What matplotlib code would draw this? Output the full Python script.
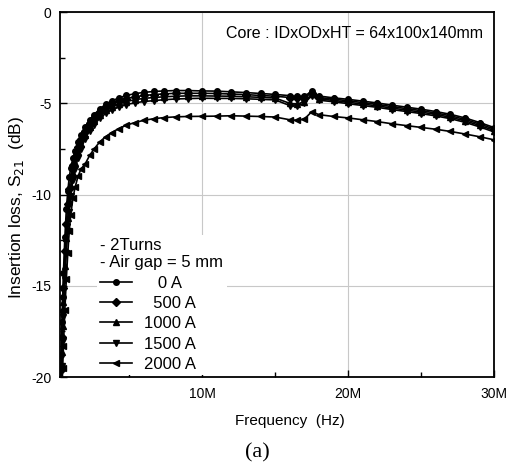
import numpy as np
import matplotlib
matplotlib.use("Agg")
import matplotlib.pyplot as plt
from matplotlib.ticker import MultipleLocator, FuncFormatter

plt.rcParams['font.family'] = ['Liberation Sans', 'DejaVu Sans']

# frequency in MHz
freq = [0.3, 0.35, 0.4, 0.45, 0.5, 0.6, 0.7, 0.8, 0.9, 1.0, 1.15, 1.3, 1.5, 1.7,
        2.0, 2.3, 2.6, 3.0, 3.4, 3.8, 4.3, 4.8, 5.4, 6.0, 6.7, 7.4, 8.2, 9.0,
        10, 11, 12, 13, 14, 15, 16, 16.5, 17, 17.5, 18, 19, 20, 21, 22, 23,
        24, 25, 26, 27, 28, 29, 30]

s21_0A = [-20.8, -18.8, -17.0, -15.6, -14.3, -12.3, -10.8, -9.8, -9.05, -8.55, -8.0,
          -7.6, -7.13, -6.72, -6.27, -5.9, -5.62, -5.29, -5.05, -4.87, -4.7, -4.57,
          -4.47, -4.4, -4.35, -4.32, -4.3, -4.3, -4.32, -4.33, -4.37, -4.41,
          -4.46, -4.51, -4.58, -4.62, -4.6, -4.35, -4.6, -4.7, -4.78, -4.88,
          -4.98, -5.1, -5.21, -5.32, -5.45, -5.6, -5.8, -6.05, -6.33]
s21_500A = [-21.6, -19.6, -17.8, -16.4, -15.1, -13.1, -11.6, -10.53, -9.68, -9.05, -8.4,
            -7.93, -7.41, -6.97, -6.49, -6.1, -5.81, -5.46, -5.22, -5.04, -4.87, -4.74,
            -4.64, -4.57, -4.52, -4.48, -4.45, -4.45, -4.45, -4.46, -4.49, -4.52,
            -4.57, -4.61, -4.68, -4.72, -4.7, -4.42, -4.68, -4.77, -4.86, -4.96,
            -5.06, -5.18, -5.29, -5.4, -5.53, -5.68, -5.88, -6.13, -6.41]
s21_1000A = [-22.4, -20.4, -18.6, -17.2, -15.9, -13.9, -12.4, -11.27, -10.32, -9.55, -8.8,
             -8.27, -7.69, -7.23, -6.71, -6.3, -5.99, -5.64, -5.38, -5.2, -5.03, -4.9,
             -4.8, -4.73, -4.68, -4.64, -4.61, -4.59, -4.59, -4.6, -4.61, -4.64,
             -4.67, -4.71, -5.0, -5.05, -4.9, -4.5, -4.75, -4.84, -4.94, -5.04,
             -5.14, -5.26, -5.37, -5.48, -5.61, -5.76, -5.96, -6.21, -6.49]
s21_1500A = [-23.2, -21.2, -19.4, -18.0, -16.7, -14.7, -13.2, -12.0, -10.95, -10.05, -9.2,
             -8.6, -7.97, -7.48, -6.93, -6.5, -6.18, -5.81, -5.55, -5.37, -5.2, -5.07,
             -4.97, -4.9, -4.85, -4.8, -4.76, -4.74, -4.72, -4.73, -4.73, -4.75,
             -4.78, -4.81, -5.12, -5.15, -5.0, -4.58, -4.83, -4.91, -5.02, -5.12,
             -5.22, -5.34, -5.45, -5.56, -5.69, -5.84, -6.04, -6.29, -6.57]
s21_2000A = [-24.0, -22.3, -20.8, -19.5, -18.3, -16.3, -14.6, -13.2, -12.0, -11.1, -10.2,
             -9.6, -9.0, -8.6, -8.3, -7.85, -7.5, -7.1, -6.82, -6.6, -6.38, -6.2,
             -6.05, -5.93, -5.84, -5.78, -5.74, -5.72, -5.71, -5.7, -5.68, -5.7,
             -5.72, -5.75, -5.9, -5.93, -5.86, -5.46, -5.62, -5.72, -5.8, -5.9,
             -6.0, -6.12, -6.22, -6.32, -6.42, -6.54, -6.68, -6.83, -7.0]

series = [(s21_0A, "   0 A", "o"),
          (s21_500A, "  500 A", "D"),
          (s21_1000A, "1000 A", "^"),
          (s21_1500A, "1500 A", "v"),
          (s21_2000A, "2000 A", "<")]

fig = plt.figure(figsize=(5.09, 4.65), dpi=100)
ax = fig.add_axes([0.118, 0.189, 0.853, 0.785])

for y, lab, m in series:
    ax.plot(freq, y, color="black", lw=1.2, marker=m, ms=4, label=lab)

ax.set_xlim(0.27, 30)
ax.set_ylim(-20, 0)
ax.xaxis.set_major_locator(MultipleLocator(10))
ax.xaxis.set_minor_locator(MultipleLocator(5))
ax.yaxis.set_major_locator(MultipleLocator(5))
ax.yaxis.set_minor_locator(MultipleLocator(2.5))
ax.xaxis.set_major_formatter(FuncFormatter(lambda v, p: "%dM" % v if v > 0 else ""))
ax.yaxis.set_major_formatter(FuncFormatter(lambda v, p: "%d" % v))
ax.tick_params(which="both", direction="in", labelsize=10, width=1.0)
ax.tick_params(which="major", length=5)
ax.tick_params(which="minor", length=3.5)
ax.tick_params(axis="x", pad=7)
ax.tick_params(axis="y", pad=6)
for sp in ax.spines.values():
    sp.set_linewidth(1.3)
ax.grid(True, which="major", color="#c8c8c8", lw=0.8)

ax.set_xlabel("Frequency  (Hz)", fontsize=11)
ax.xaxis.set_label_coords(0.53, -0.10)
ax.set_ylabel("Insertion loss, S$_{21}$  (dB)", fontsize=12.5)
ax.yaxis.set_label_coords(-0.078, 0.466)

ax.text(0.975, 0.94, "Core : IDxODxHT = 64x100x140mm", transform=ax.transAxes,
        ha="right", va="center", fontsize=11.5)

leg = ax.legend(loc="lower left", bbox_to_anchor=(0.085, 0.005), fontsize=12,
                title="- 2Turns\n- Air gap = 5 mm", title_fontsize=12,
                alignment="left", frameon=True, facecolor="white", edgecolor="none",
                framealpha=1, fancybox=False, handlelength=1.9, handletextpad=0.7,
                labelspacing=0.32, borderpad=0.2, borderaxespad=0)

fig.text(0.505, 0.026, "(a)", fontsize=16, family="Liberation Serif",
         ha="center", va="center")

fig.savefig("out.png", dpi=100)
